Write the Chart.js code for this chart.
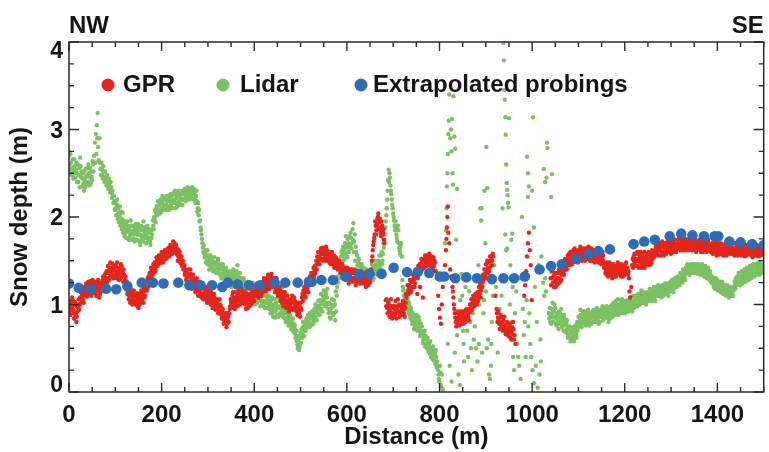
<!DOCTYPE html>
<html><head><meta charset="utf-8">
<script src="https://cdn.jsdelivr.net/npm/chart.js@4.4.0/dist/chart.umd.min.js"></script>
<style>html,body{margin:0;padding:0;background:#fff;}canvas{display:block;}</style>
</head><body>
<canvas id="c" width="769" height="452"></canvas>
<script>
const seriesNames = ['GPR', 'Lidar', 'Extrapolated probings'];
const directionLabels = ['NW', 'SE'];
const xTickLabels = [0, 200, 400, 600, 800, 1000, 1200, 1400];
const yTickLabels = [0, 1, 2, 3, 4];
const xTitle = 'Distance (m)';
const yTitle = 'Snow depth (m)';

// Extrapolated probings [distance m, depth m]
const probePoints = [[0,1.24],[21,1.19],[47,1.175],[80,1.18],[102,1.175],[126,1.21],[157,1.25],[181,1.25],[204,1.24],[236,1.25],[260,1.22],[284,1.22],[309,1.22],[331,1.2],[343,1.25],[364,1.23],[389,1.22],[413,1.22],[444,1.25],[467,1.25],[494,1.25],[518,1.26],[524,1.26],[545,1.28],[570,1.28],[597,1.32],[626,1.34],[649,1.35],[675,1.35],[701,1.42],[730,1.37],[753,1.37],[778,1.36],[801,1.32],[810,1.32],[834,1.3],[858,1.31],[881,1.3],[913,1.29],[938,1.3],[961,1.3],[984,1.32],[1016,1.4],[1041,1.44],[1064,1.46],[1095,1.52],[1120,1.57],[1143,1.61],[1168,1.63],[1219,1.69],[1242,1.72],[1265,1.74],[1297,1.78],[1322,1.81],[1346,1.79],[1371,1.78],[1394,1.78],[1402,1.78],[1426,1.72],[1450,1.71],[1475,1.69],[1500,1.68]];

// GPR [distance m, depth m]
const gprPoints = [[0,0.98],[2,0.92],[4,1.02],[6,0.95],[8,1.05],[10,0.9],[12,0.99],[14,0.86],[16,0.8],[18,0.92],[20,1.0],[22,0.94],[24,1.08],[26,1.02],[28,1.12],[30,1.06],[33,1.16],[36,1.1],[38,1.2],[40,1.14],[43,1.22],[46,1.15],[49,1.24],[52,1.18],[55,1.26],[58,1.14],[61,1.2],[64,1.23],[67,1.12],[70,1.2],[73,1.28],[76,1.18],[79,1.3],[82,1.25],[85,1.36],[88,1.3],[91,1.42],[94,1.34],[97,1.45],[100,1.38],[103,1.3],[106,1.42],[109,1.35],[112,1.46],[115,1.32],[118,1.4],[121,1.28],[124,1.22],[127,1.15],[130,1.1],[133,1.18],[136,1.05],[139,1.12],[142,1.02],[145,1.09],[148,0.98],[151,1.06],[154,1.12],[157,1.03],[160,1.14],[163,1.08],[166,1.2],[169,1.25],[172,1.32],[175,1.28],[178,1.38],[181,1.34],[184,1.44],[187,1.4],[190,1.5],[193,1.46],[196,1.52],[199,1.48],[202,1.56],[205,1.5],[208,1.58],[211,1.53],[214,1.6],[217,1.55],[220,1.63],[223,1.58],[226,1.66],[228,1.7],[230,1.6],[233,1.64],[236,1.55],[239,1.6],[242,1.52],[245,1.48],[248,1.42],[251,1.36],[254,1.3],[257,1.4],[260,1.25],[263,1.35],[266,1.22],[269,1.3],[272,1.18],[275,1.26],[278,1.15],[281,1.22],[284,1.1],[287,1.18],[290,1.06],[293,1.14],[296,1.2],[299,1.08],[302,1.15],[305,1.04],[308,1.1],[311,1.0],[314,1.08],[317,0.98],[320,1.04],[323,0.94],[326,1.0],[329,0.88],[332,0.95],[335,0.82],[338,0.9],[341,0.78],[344,0.86],[347,0.95],[350,1.02],[353,1.1],[356,0.98],[359,1.08],[362,1.0],[365,1.12],[368,1.04],[371,1.15],[374,1.06],[377,1.12],[380,1.0],[383,1.08],[386,0.96],[389,1.05],[392,1.12],[395,1.02],[398,1.1],[401,1.15],[404,1.22],[407,1.12],[410,1.2],[413,1.1],[416,1.18],[419,1.26],[422,1.15],[425,1.22],[428,1.3],[431,1.2],[434,1.28],[437,1.35],[440,1.24],[443,1.3],[446,1.18],[449,1.25],[452,1.14],[455,1.2],[458,1.08],[461,1.14],[464,1.02],[467,1.1],[470,0.98],[473,1.05],[476,0.95],[479,1.02],[482,1.1],[485,0.96],[488,1.04],[491,0.92],[494,1.0],[497,0.9],[500,0.97],[503,1.08],[506,1.16],[509,1.12],[512,1.22],[515,1.18],[518,1.28],[521,1.22],[524,1.32],[527,1.28],[530,1.38],[533,1.45],[536,1.55],[539,1.5],[542,1.6],[545,1.52],[548,1.65],[551,1.58],[554,1.5],[557,1.62],[560,1.55],[563,1.48],[566,1.58],[569,1.5],[572,1.56],[575,1.45],[578,1.52],[581,1.44],[584,1.5],[587,1.4],[590,1.46],[593,1.36],[596,1.42],[599,1.32],[602,1.38],[605,1.28],[608,1.35],[611,1.4],[614,1.3],[617,1.36],[620,1.26],[623,1.32],[626,1.38],[629,1.28],[632,1.35],[635,1.24],[638,1.3],[641,1.2],[644,1.27],[647,1.34],[650,1.25],[654,1.5],[656,1.62],[658,1.72],[660,1.8],[662,1.9],[664,1.85],[666,1.98],[668,2.04],[670,1.94],[672,1.86],[674,1.78],[676,1.9],[678,1.82],[680,1.74],[684,1.05],[687,0.96],[690,1.02],[693,0.92],[696,0.98],[699,0.88],[702,0.95],[705,1.04],[708,0.9],[711,0.98],[714,0.86],[717,0.93],[720,1.0],[723,0.9],[726,0.96],[729,1.08],[732,1.16],[735,1.22],[738,1.14],[741,1.2],[744,1.3],[747,1.24],[750,1.36],[752,1.12],[753,1.3],[756,1.42],[758,1.2],[759,1.38],[762,1.48],[764,1.08],[765,1.44],[768,1.52],[771,1.46],[774,1.56],[777,1.5],[780,1.45],[783,1.55],[786,1.4],[789,1.5],[795,1.3],[797,1.1],[799,0.95],[801,0.85],[803,0.78],[805,1.0],[807,1.2],[812,1.45],[814,1.62],[815,1.75],[816,1.88],[817,2.0],[818,2.12],[819,1.82],[821,1.7],[823,1.4],[825,1.32],[828,1.2],[830,1.08],[832,0.95],[834,0.85],[836,0.75],[838,0.9],[841,0.82],[844,0.88],[847,0.78],[850,0.92],[853,0.84],[856,0.8],[859,0.9],[862,0.86],[865,0.95],[868,1.0],[871,0.96],[874,1.05],[877,1.0],[880,1.1],[883,1.04],[886,1.15],[889,1.08],[892,1.2],[895,1.28],[898,1.35],[901,1.3],[904,1.42],[907,1.38],[910,1.5],[913,1.45],[916,1.55],[919,1.3],[921,1.1],[923,0.95],[926,0.85],[929,0.78],[932,0.88],[935,0.74],[938,0.82],[941,0.7],[944,0.78],[947,0.66],[950,0.74],[953,0.62],[956,0.7],[959,0.8],[962,0.65],[964,0.55],[983,1.1],[985,1.22],[987,1.38],[989,1.55],[991,1.7],[993,1.82],[995,1.62],[997,1.45],[999,1.05],[1040,1.3],[1042,1.38],[1045,1.25],[1048,1.34],[1051,1.2],[1054,1.3],[1057,1.24],[1060,1.36],[1063,1.28],[1066,1.42],[1069,1.34],[1072,1.48],[1075,1.4],[1078,1.52],[1081,1.45],[1084,1.56],[1087,1.5],[1090,1.6],[1093,1.52],[1096,1.58],[1099,1.48],[1102,1.56],[1105,1.62],[1108,1.52],[1111,1.6],[1114,1.5],[1117,1.58],[1120,1.64],[1123,1.54],[1126,1.6],[1129,1.5],[1132,1.57],[1135,1.48],[1138,1.55],[1141,1.62],[1144,1.52],[1147,1.58],[1150,1.5],[1153,1.56],[1156,1.46],[1159,1.4],[1162,1.48],[1165,1.36],[1168,1.44],[1171,1.34],[1174,1.42],[1177,1.32],[1180,1.4],[1183,1.35],[1186,1.45],[1189,1.38],[1192,1.32],[1195,1.42],[1198,1.36],[1201,1.46],[1204,1.4],[1207,1.34],[1210,1.15],[1212,1.08],[1214,1.2],[1216,1.45],[1219,1.55],[1222,1.48],[1225,1.58],[1228,1.44],[1231,1.52],[1234,1.6],[1237,1.46],[1240,1.55],[1243,1.42],[1246,1.5],[1249,1.58],[1252,1.45],[1255,1.54],[1258,1.48],[1261,1.57],[1264,1.6],[1267,1.66],[1270,1.58],[1273,1.64],[1276,1.7],[1279,1.6],[1282,1.67],[1285,1.56],[1288,1.63],[1291,1.7],[1294,1.6],[1297,1.66],[1300,1.58],[1303,1.64],[1306,1.7],[1309,1.62],[1312,1.68],[1315,1.74],[1318,1.64],[1321,1.7],[1324,1.62],[1327,1.68],[1330,1.75],[1333,1.65],[1336,1.7],[1339,1.62],[1342,1.68],[1345,1.73],[1348,1.64],[1351,1.7],[1354,1.6],[1357,1.66],[1360,1.72],[1363,1.63],[1366,1.69],[1369,1.6],[1372,1.67],[1375,1.72],[1378,1.64],[1381,1.7],[1384,1.62],[1387,1.68],[1390,1.58],[1393,1.65],[1396,1.71],[1399,1.6],[1402,1.66],[1405,1.57],[1408,1.63],[1411,1.69],[1414,1.6],[1417,1.66],[1420,1.56],[1423,1.62],[1426,1.68],[1429,1.58],[1432,1.64],[1435,1.7],[1438,1.6],[1441,1.66],[1444,1.56],[1447,1.62],[1450,1.68],[1453,1.58],[1456,1.64],[1459,1.55],[1462,1.62],[1465,1.68],[1468,1.58],[1471,1.64],[1474,1.56],[1477,1.62],[1480,1.68],[1483,1.58],[1486,1.64],[1489,1.55],[1492,1.62],[1495,1.67],[1498,1.58],
[1,1.04],[3,0.88],[5,0.97],[7,1.08],[9,0.94],[11,0.84],[13,1.03],[15,0.9],[17,0.86],[19,0.97],[21,1.06],[23,0.99],[25,1.14],[27,1.06],[29,1.16],[31,1.1],[32,1.02],[34,1.2],[35,1.13],[37,1.24],[39,1.09],[41,1.18],[42,1.26],[44,1.12],[45,1.2],[47,1.27],[48,1.1],[50,1.2],[51,1.28],[53,1.13],[54,1.22],[56,1.17],[57,1.24],[59,1.1],[60,1.26],[62,1.16],[63,1.28],[65,1.08],[66,1.18],[68,1.25],[69,1.15],[71,1.24],[72,1.16],[74,1.32],[75,1.22],[77,1.26],[78,1.35],[80,1.22],[81,1.38],[83,1.3],[84,1.44],[86,1.28],[87,1.4],[89,1.48],[90,1.33],[92,1.38],[93,1.47],[95,1.4],[96,1.3],[98,1.42],[99,1.32],[101,1.44],[102,1.36],[104,1.48],[105,1.33],[107,1.38],[108,1.28],[110,1.4],[111,1.3],[113,1.38],[114,1.44],[116,1.36],[117,1.26],[119,1.34],[120,1.24],[122,1.32],[123,1.18],[125,1.26],[126,1.12],[128,1.2],[129,1.06],[131,1.14],[132,1.02],[134,1.1],[135,1.15],[137,1.0],[138,1.08],[140,1.16],[141,1.04],[143,1.12],[144,1.0],[146,1.05],[147,1.13],[149,1.02],[150,0.96],[152,1.1],[153,1.0],[155,1.08],[156,1.16],[158,1.06],[159,1.12],[161,1.02],[162,1.18],[164,1.1],[165,1.16],[167,1.26],[168,1.16],[170,1.3],[171,1.2],[173,1.26],[174,1.36],[176,1.32],[177,1.42],[179,1.3],[180,1.4],[182,1.46],[183,1.36],[185,1.48],[186,1.38],[188,1.44],[189,1.54],[191,1.44],[192,1.5],[194,1.56],[195,1.47],[197,1.56],[198,1.5],[200,1.6],[201,1.52],[203,1.48],[204,1.58],[206,1.54],[207,1.62],[209,1.52],[210,1.6],[212,1.56],[213,1.64],[215,1.57],[216,1.65],[218,1.6],[219,1.68],[221,1.58],[222,1.66],[224,1.62],[225,1.72],[227,1.62],[229,1.66],[231,1.68],[232,1.58],[234,1.6],[235,1.5],[237,1.62],[238,1.54],[240,1.56],[241,1.47],[243,1.55],[244,1.44],[246,1.5],[247,1.4],[249,1.45],[250,1.34],[252,1.4],[253,1.28],[255,1.36],[256,1.26],[258,1.33],[259,1.22],[261,1.32],[262,1.4],[264,1.28],[265,1.18],[267,1.26],[268,1.34],[270,1.2],[271,1.26],[273,1.14],[274,1.22],[276,1.3],[277,1.2],[279,1.1],[280,1.18],[282,1.26],[283,1.14],[285,1.2],[286,1.08],[288,1.12],[289,1.22],[291,1.1],[292,1.2],[294,1.06],[295,1.16],[297,1.12],[298,1.02],[300,1.12],[301,1.06],[303,1.18],[304,1.08],[306,1.0],[307,1.14],[309,1.06],[310,0.96],[312,1.04],[313,1.12],[315,1.02],[316,0.94],[318,1.06],[319,0.96],[321,1.0],[322,0.9],[324,0.98],[325,1.06],[327,0.92],[328,0.98],[330,0.84],[331,0.92],[333,0.86],[334,0.78],[336,0.88],[337,0.8],[339,0.84],[340,0.74],[342,0.82],[343,0.9],[345,0.8],[346,0.9],[348,0.98],[349,1.06],[351,0.96],[352,1.05],[354,1.14],[355,1.02],[357,1.06],[358,0.95],[360,1.14],[361,1.04],[363,1.1],[364,0.98],[366,1.06],[367,1.16],[369,1.1],[370,1.0],[372,1.08],[373,1.18],[375,1.02],[376,1.1],[378,1.05],[379,1.15],[381,1.04],[382,0.95],[384,1.02],[385,1.12],[387,1.0],[388,1.1],[390,0.98],[391,1.06],[393,1.0],[394,1.08],[396,1.15],[397,1.06],[399,1.14],[400,1.04],[402,1.1],[403,1.18],[405,1.14],[406,1.24],[408,1.16],[409,1.08],[411,1.14],[412,1.24],[414,1.2],[415,1.1],[417,1.22],[418,1.14],[420,1.2],[421,1.3],[423,1.24],[424,1.18],[426,1.26],[427,1.16],[429,1.24],[430,1.34],[432,1.26],[433,1.18],[435,1.24],[436,1.32],[438,1.28],[439,1.2],[441,1.3],[442,1.22],[444,1.26],[445,1.14],[447,1.22],[448,1.3],[450,1.18],[451,1.1],[453,1.2],[454,1.12],[456,1.16],[457,1.04],[459,1.12],[460,1.02],[462,1.08],[463,0.98],[465,1.06],[466,1.14],[468,1.04],[469,0.96],[471,1.02],[472,1.1],[474,1.0],[475,0.92],[477,0.98],[478,1.06],[480,0.96],[481,1.04],[483,0.94],[484,1.02],[486,1.08],[487,0.98],[489,0.94],[490,1.02],[492,0.96],[493,0.88],[495,0.94],[496,1.02],[498,0.94],[499,0.86],[501,1.02],[502,0.94],[504,1.12],[505,1.04],[507,1.1],[508,1.2],[510,1.16],[511,1.08],[513,1.16],[514,1.26],[516,1.22],[517,1.14],[519,1.24],[520,1.32],[522,1.26],[523,1.36],[525,1.24],[526,1.34],[528,1.42],[529,1.32],[531,1.44],[532,1.36],[534,1.5],[535,1.4],[537,1.48],[538,1.6],[540,1.54],[541,1.46],[543,1.56],[544,1.64],[546,1.58],[547,1.5],[549,1.6],[550,1.52],[552,1.62],[553,1.56],[555,1.66],[556,1.54],[558,1.58],[559,1.5],[561,1.6],[562,1.52],[564,1.56],[565,1.46],[567,1.54],[568,1.6],[570,1.46],[571,1.52],[573,1.42],[574,1.5],[576,1.54],[577,1.44],[579,1.48],[580,1.4],[582,1.5],[583,1.42],[585,1.46],[586,1.36],[588,1.44],[589,1.36],[591,1.4],[592,1.32],[594,1.42],[595,1.3],[597,1.38],[598,1.28],[600,1.34],[601,1.42],[603,1.32],[604,1.24],[606,1.32],[607,1.4],[609,1.3],[610,1.36],[612,1.26],[613,1.36],[615,1.28],[616,1.4],[618,1.3],[619,1.22],[621,1.3],[622,1.38],[624,1.28],[625,1.34],[627,1.24],[628,1.32],[630,1.38],[631,1.3],[633,1.26],[634,1.34],[636,1.28],[637,1.36],[639,1.26],[640,1.32],[642,1.24],[643,1.3],[645,1.22],[646,1.3],[648,1.28],[649,1.36],[651,1.3],[652,1.4],[655,1.55],[657,1.68],[659,1.76],[661,1.95],[663,1.8],[665,1.92],[667,2.0],[669,1.88],[671,1.98],[673,1.82],[675,1.95],[677,1.8],[679,1.86],[681,1.7],[685,0.98],[686,1.06],[688,0.9],[689,1.0],[691,0.94],[692,0.86],[694,0.96],[695,1.06],[697,0.9],[698,0.84],[700,0.98],[701,0.9],[703,0.86],[704,0.98],[706,0.94],[707,0.84],[709,0.96],[710,1.06],[712,0.92],[713,1.0],[715,0.9],[716,0.98],[718,0.88],[719,0.96],[721,1.04],[722,0.94],[724,0.98],[725,0.86],[727,1.02],[728,1.12],[730,1.12],[731,1.22],[733,1.12],[734,1.2],[736,1.28],[737,1.16],[739,1.26],[740,1.18],[742,1.26],[743,1.34],[745,1.28],[746,1.2],[748,1.32],[749,1.4],[751,1.34],[754,1.44],[755,1.36],[757,1.46],[760,1.42],[761,1.52],[763,1.4],[766,1.5],[767,1.42],[769,1.56],[770,1.48],[772,1.52],[773,1.44],[775,1.54],[776,1.46],[778,1.58],[779,1.52],[781,1.5],[782,1.42],[784,1.52],[785,1.46],[787,1.54],[788,1.44],[790,1.48],[792,1.38],[829,1.15],[831,1.0],[833,0.9],[835,0.8],[837,0.84],[839,0.78],[840,0.92],[842,0.86],[843,0.76],[845,0.84],[846,0.92],[848,0.86],[849,0.8],[851,0.88],[852,0.78],[854,0.92],[855,0.86],[857,0.94],[858,0.84],[860,0.82],[861,0.94],[863,0.9],[864,0.82],[866,1.0],[867,0.92],[869,1.06],[870,0.94],[872,1.02],[873,1.1],[875,0.98],[876,1.08],[878,1.12],[879,1.04],[881,1.0],[882,1.14],[884,1.08],[885,1.2],[887,1.12],[888,1.24],[890,1.16],[891,1.3],[893,1.25],[894,1.34],[896,1.3],[897,1.4],[899,1.32],[900,1.46],[902,1.38],[903,1.5],[905,1.36],[906,1.48],[908,1.42],[909,1.55],[911,1.44],[912,1.52],[914,1.5],[915,1.58],[924,0.9],[925,0.8],[927,0.92],[928,0.84],[930,0.72],[931,0.8],[933,0.76],[934,0.86],[936,0.78],[937,0.7],[939,0.76],[940,0.86],[942,0.74],[943,0.66],[945,0.72],[946,0.8],[948,0.7],[949,0.64],[951,0.7],[952,0.78],[954,0.68],[955,0.6],[957,0.74],[958,0.66],[960,0.72],[961,0.6],[1041,1.22],[1043,1.3],[1044,1.4],[1046,1.32],[1047,1.2],[1049,1.26],[1050,1.36],[1052,1.28],[1053,1.22],[1055,1.36],[1056,1.3],[1058,1.4],[1059,1.3],[1061,1.26],[1062,1.44],[1064,1.34],[1065,1.38],[1067,1.48],[1068,1.38],[1070,1.44],[1071,1.52],[1073,1.42],[1074,1.5],[1076,1.46],[1077,1.56],[1079,1.48],[1080,1.58],[1082,1.5],[1083,1.6],[1085,1.52],[1086,1.46],[1088,1.56],[1089,1.62],[1091,1.54],[1092,1.64],[1094,1.56],[1095,1.5],[1097,1.6],[1098,1.54],[1100,1.62],[1101,1.5],[1103,1.58],[1104,1.66],[1106,1.56],[1107,1.5],[1109,1.58],[1110,1.64],[1112,1.54],[1113,1.6],[1115,1.56],[1116,1.64],[1118,1.52],[1119,1.6],[1121,1.56],[1122,1.66],[1124,1.58],[1125,1.5],[1127,1.56],[1128,1.64],[1130,1.54],[1131,1.6],[1133,1.52],[1134,1.62],[1136,1.54],[1137,1.6],[1139,1.5],[1140,1.58],[1142,1.56],[1143,1.48],[1145,1.56],[1146,1.62],[1148,1.54],[1149,1.46],[1151,1.54],[1152,1.6],[1154,1.5],[1155,1.42],[1157,1.44],[1158,1.36],[1160,1.44],[1161,1.34],[1163,1.42],[1164,1.32],[1166,1.4],[1167,1.48],[1169,1.38],[1170,1.46],[1172,1.38],[1173,1.3],[1175,1.38],[1176,1.46],[1178,1.36],[1179,1.44],[1181,1.32],[1182,1.42],[1184,1.38],[1185,1.48],[1187,1.36],[1188,1.42],[1190,1.34],[1191,1.4],[1193,1.46],[1194,1.36],[1196,1.32],[1197,1.4],[1199,1.44],[1200,1.34],[1202,1.4],[1203,1.48],[1205,1.36],[1206,1.42],[1208,1.38],[1209,1.3],[1217,1.52],[1218,1.42],[1220,1.5],[1221,1.58],[1223,1.44],[1224,1.52],[1226,1.5],[1227,1.6],[1229,1.5],[1230,1.42],[1232,1.56],[1233,1.48],[1235,1.52],[1236,1.42],[1238,1.58],[1239,1.5],[1241,1.46],[1242,1.6],[1244,1.52],[1245,1.46],[1247,1.56],[1248,1.48],[1250,1.52],[1251,1.6],[1253,1.5],[1254,1.58],[1256,1.46],[1257,1.56],[1259,1.62],[1260,1.52],[1262,1.6],[1263,1.54],[1265,1.56],[1266,1.62],[1268,1.7],[1269,1.62],[1271,1.66],[1272,1.56],[1274,1.62],[1275,1.68],[1277,1.64],[1278,1.56],[1280,1.66],[1281,1.72],[1283,1.6],[1284,1.66],[1286,1.62],[1287,1.7],[1289,1.58],[1290,1.66],[1292,1.64],[1293,1.72],[1295,1.62],[1296,1.7],[1298,1.6],[1299,1.68],[1301,1.62],[1302,1.72],[1304,1.6],[1305,1.66],[1307,1.64],[1308,1.74],[1310,1.66],[1311,1.6],[1313,1.64],[1314,1.7],[1316,1.66],[1317,1.76],[1319,1.68],[1320,1.62],[1322,1.74],[1323,1.66],[1325,1.72],[1326,1.64],[1328,1.7],[1329,1.62],[1331,1.68],[1332,1.72],[1334,1.62],[1335,1.74],[1337,1.66],[1338,1.72],[1340,1.66],[1341,1.74],[1343,1.64],[1344,1.7],[1346,1.62],[1347,1.68],[1349,1.72],[1350,1.64],[1352,1.66],[1353,1.74],[1355,1.68],[1356,1.62],[1358,1.7],[1359,1.64],[1361,1.66],[1362,1.74],[1364,1.66],[1365,1.6],[1367,1.72],[1368,1.64],[1370,1.68],[1371,1.62],[1373,1.7],[1374,1.64],[1376,1.66],[1377,1.6],[1379,1.68],[1380,1.74],[1382,1.64],[1383,1.68],[1385,1.66],[1386,1.6],[1388,1.62],[1389,1.7],[1391,1.64],[1392,1.6],[1394,1.68],[1395,1.62],[1397,1.66],[1398,1.56],[1400,1.64],[1401,1.7],[1403,1.6],[1404,1.68],[1406,1.64],[1407,1.7],[1409,1.58],[1410,1.64],[1412,1.62],[1413,1.56],[1415,1.66],[1416,1.6],[1418,1.62],[1419,1.7],[1421,1.6],[1422,1.66],[1424,1.58],[1425,1.64],[1427,1.62],[1428,1.7],[1430,1.6],[1431,1.66],[1433,1.58],[1434,1.64],[1436,1.62],[1437,1.56],[1439,1.64],[1440,1.7],[1442,1.6],[1443,1.64],[1445,1.6],[1446,1.68],[1448,1.58],[1449,1.64],[1451,1.62],[1452,1.56],[1454,1.66],[1455,1.6],[1457,1.6],[1458,1.68],[1460,1.58],[1461,1.64],[1463,1.56],[1464,1.62],[1466,1.64],[1467,1.58],[1469,1.66],[1470,1.6],[1472,1.58],[1473,1.66],[1475,1.6],[1476,1.54],[1478,1.64],[1479,1.6],[1481,1.62],[1482,1.56],[1484,1.6],[1485,1.68],[1487,1.6],[1488,1.64],[1490,1.58],[1491,1.66],[1493,1.6],[1494,1.56],[1496,1.62],[1497,1.66],[1499,1.6],[1500,1.64]];

// Lidar [distance m, depth m]
const lidarPoints = [[0,2.7],[2,2.55],[4,2.62],[6,2.48],[8,2.66],[10,2.52],[12,2.58],[14,2.45],[16,2.62],[18,2.5],[20,2.4],[22,2.56],[24,2.68],[26,2.46],[28,2.35],[30,2.5],[32,2.3],[34,2.42],[36,2.55],[38,2.38],[40,2.48],[42,2.6],[44,2.36],[46,2.45],[48,2.52],[50,2.42],[52,2.6],[54,2.7],[56,2.85],[57,2.62],[58,2.95],[59,2.72],[60,3.05],[61,2.9],[62,3.19],[63,2.8],[64,2.65],[66,2.9],[68,2.55],[70,2.62],[72,2.48],[74,2.58],[76,2.45],[78,2.52],[80,2.4],[82,2.48],[84,2.38],[86,2.44],[88,2.34],[90,2.4],[92,2.3],[95,2.25],[98,2.18],[101,2.1],[104,2.2],[107,2.05],[110,2.12],[113,1.98],[116,2.05],[119,1.9],[122,1.82],[125,1.95],[128,1.86],[131,1.78],[134,1.9],[137,1.84],[140,1.75],[143,1.88],[146,1.8],[149,1.92],[152,1.72],[155,1.85],[158,1.78],[161,1.95],[164,1.82],[167,1.7],[170,1.86],[173,1.76],[176,1.68],[179,1.8],[182,1.9],[185,1.98],[188,2.05],[191,2.12],[194,2.05],[197,2.18],[200,2.1],[203,2.2],[206,2.14],[209,2.08],[212,2.18],[215,2.12],[218,2.22],[221,2.15],[224,2.25],[227,2.18],[230,2.1],[233,2.22],[236,2.16],[239,2.26],[242,2.2],[245,2.14],[248,2.28],[251,2.22],[254,2.3],[257,2.24],[260,2.33],[263,2.26],[266,2.34],[269,2.28],[272,2.2],[275,2.3],[278,2.1],[280,2.02],[282,1.95],[284,1.88],[286,1.8],[289,1.65],[292,1.58],[295,1.62],[298,1.5],[301,1.56],[304,1.45],[307,1.52],[310,1.42],[313,1.48],[316,1.38],[319,1.45],[322,1.52],[325,1.4],[328,1.46],[331,1.35],[334,1.42],[337,1.3],[340,1.38],[343,1.25],[346,1.33],[349,1.22],[352,1.3],[355,1.4],[358,1.26],[361,1.34],[364,1.45],[367,1.24],[370,1.3],[373,1.2],[376,1.26],[379,1.15],[382,1.22],[385,1.1],[388,1.18],[391,1.05],[394,1.15],[397,1.25],[400,1.08],[403,1.18],[406,1.02],[409,1.12],[412,1.22],[415,1.05],[418,1.15],[421,0.98],[424,1.1],[427,1.2],[430,1.04],[433,0.95],[436,1.05],[439,0.9],[442,1.0],[445,0.85],[448,0.95],[451,1.08],[454,0.88],[457,0.98],[460,1.15],[463,0.9],[466,1.02],[469,0.85],[472,0.92],[475,0.8],[478,0.88],[481,0.76],[484,0.84],[487,0.72],[490,0.65],[492,0.58],[494,0.5],[496,0.6],[498,0.52],[500,0.68],[503,0.62],[506,0.75],[509,0.7],[512,0.82],[515,0.76],[518,0.86],[521,0.78],[524,0.9],[527,0.82],[530,0.95],[533,0.86],[536,0.98],[539,0.9],[542,1.05],[545,0.95],[548,1.1],[551,1.0],[554,1.15],[557,1.08],[560,0.95],[563,0.85],[566,1.0],[569,0.9],[572,1.05],[575,0.82],[578,1.1],[581,1.25],[584,1.4],[587,1.55],[590,1.62],[593,1.5],[596,1.7],[599,1.58],[602,1.75],[605,1.65],[608,1.82],[611,1.7],[614,1.93],[617,1.8],[620,1.6],[623,1.45],[626,1.52],[629,1.38],[632,1.46],[635,1.32],[638,1.4],[641,1.28],[644,1.36],[647,1.25],[650,1.33],[653,1.4],[656,1.28],[659,1.35],[662,1.45],[665,1.38],[668,1.5],[671,1.44],[674,1.56],[677,1.5],[680,1.65],[682,1.8],[684,1.95],[686,2.1],[688,2.3],[690,2.54],[691,2.4],[693,2.45],[695,2.3],[697,2.2],[699,2.1],[701,2.0],[703,1.9],[705,1.95],[707,1.8],[709,1.72],[711,1.85],[713,1.65],[715,1.58],[717,1.7],[719,1.55],[721,1.2],[723,1.1],[725,1.0],[727,1.12],[729,0.95],[731,1.05],[733,0.9],[735,0.98],[737,0.85],[739,0.92],[741,0.78],[743,0.86],[745,0.72],[747,0.8],[750,0.88],[753,0.75],[756,0.82],[759,0.68],[762,0.75],[765,0.6],[768,0.7],[771,0.55],[774,0.62],[777,0.5],[780,0.58],[783,0.45],[786,0.52],[789,0.42],[792,0.48],[795,0.35],[797,0.25],[799,0.15],[801,0.3],[803,0.08],[805,0.2],[807,0.03],[812,1.7],[814,1.85],[815,2.1],[816,2.35],[817,2.5],[818,2.72],[819,2.95],[820,3.1],[821,3.4],[823,2.9],[825,3.0],[826,2.75],[827,3.12],[828,2.5],[829,2.37],[830,3.38],[832,2.92],[834,2.78],[836,1.74],[838,2.32],[818,0.55],[822,0.3],[826,0.12],[833,0.45],[838,0.65],[841,0.2],[844,0.08],[848,1.35],[849,1.1],[850,0.9],[851,0.7],[852,0.55],[858,0.95],[862,0.4],[866,0.8],[870,0.25],[874,0.6],[876,0.75],[879,0.5],[880,1.3],[882,0.35],[884,1.45],[886,1.0],[888,2.1],[890,1.96],[891,2.1],[893,1.2],[895,0.9],[897,2.3],[899,1.7],[900,1.15],[901,2.8],[903,2.33],[904,1.4],[905,0.6],[907,0.2],[909,0.15],[911,0.3],[913,0.8],[915,1.1],[936,2.1],[938,3.99],[939,3.79],[940,3.45],[941,3.34],[942,3.14],[943,2.94],[944,2.6],[945,2.39],[946,2.31],[947,2.25],[948,2.16],[949,2.11],[950,3.13],[946,1.64],[944,1.62],[942,1.8],[952,1.0],[955,0.8],[957,0.6],[959,0.4],[961,0.25],[955,1.74],[957,1.81],[968,0.55],[970,0.4],[972,0.3],[975,0.15],[978,2.0],[980,0.95],[984,0.8],[988,1.05],[992,0.75],[989,2.69],[991,2.5],[991,2.23],[993,2.35],[1000,2.3],[1002,3.14],[1004,1.88],[998,0.4],[1001,0.25],[1004,0.1],[1008,0.3],[1012,0.05],[1016,0.2],[1019,0.35],[1020,1.55],[1022,1.4],[1024,1.25],[1026,1.1],[1028,1.3],[1030,1.15],[1025,2.55],[1028,2.4],[1031,2.45],[1032,2.85],[1033,2.79],[1041,2.23],[1043,2.49],[1036,0.9],[1039,0.8],[1042,0.95],[1045,0.85],[1048,1.0],[1051,0.78],[1054,0.9],[1057,0.72],[1060,0.85],[1063,0.95],[1066,0.76],[1069,0.88],[1072,0.7],[1075,0.82],[1078,0.65],[1081,0.75],[1084,0.6],[1087,0.7],[1090,0.58],[1093,0.68],[1096,0.62],[1099,0.74],[1102,0.8],[1105,0.88],[1108,0.78],[1111,0.85],[1114,0.92],[1117,0.8],[1120,0.87],[1123,0.76],[1126,0.84],[1129,0.9],[1132,0.8],[1135,0.88],[1138,0.82],[1141,0.9],[1144,0.78],[1147,0.86],[1150,0.93],[1153,0.82],[1156,0.9],[1159,0.85],[1162,0.92],[1165,0.8],[1168,0.88],[1171,0.94],[1174,0.86],[1177,0.98],[1180,0.9],[1183,1.0],[1186,0.88],[1189,0.96],[1192,1.04],[1195,0.92],[1198,1.0],[1201,0.9],[1204,0.98],[1207,1.05],[1210,0.94],[1213,1.02],[1216,0.92],[1219,1.0],[1222,1.06],[1225,1.0],[1228,1.08],[1231,1.02],[1234,1.12],[1237,1.05],[1240,1.14],[1243,1.06],[1246,1.0],[1249,1.1],[1252,1.04],[1255,1.14],[1258,1.08],[1261,1.16],[1264,1.06],[1267,1.12],[1270,1.2],[1273,1.1],[1276,1.16],[1279,1.08],[1282,1.14],[1285,1.2],[1288,1.12],[1291,1.18],[1294,1.1],[1297,1.2],[1300,1.16],[1303,1.24],[1306,1.18],[1309,1.26],[1312,1.2],[1315,1.28],[1318,1.22],[1321,1.3],[1324,1.25],[1327,1.33],[1330,1.28],[1333,1.36],[1336,1.4],[1339,1.45],[1342,1.36],[1345,1.42],[1348,1.38],[1351,1.45],[1354,1.4],[1357,1.35],[1360,1.43],[1363,1.38],[1366,1.44],[1369,1.36],[1372,1.42],[1375,1.34],[1378,1.4],[1381,1.32],[1384,1.38],[1387,1.3],[1390,1.25],[1393,1.3],[1396,1.22],[1399,1.28],[1402,1.2],[1405,1.26],[1408,1.18],[1411,1.24],[1414,1.16],[1417,1.22],[1420,1.14],[1423,1.2],[1426,1.12],[1429,1.18],[1432,1.1],[1435,1.16],[1438,1.22],[1441,1.28],[1444,1.24],[1447,1.3],[1450,1.26],[1453,1.33],[1456,1.28],[1459,1.36],[1462,1.3],[1465,1.38],[1468,1.32],[1471,1.4],[1474,1.35],[1477,1.42],[1480,1.36],[1483,1.44],[1486,1.38],[1489,1.45],[1492,1.4],[1495,1.46],[1498,1.42],
[1,2.6],[3,2.72],[5,2.5],[7,2.56],[9,2.44],[11,2.66],[13,2.5],[15,2.54],[17,2.4],[19,2.6],[21,2.48],[23,2.34],[25,2.58],[27,2.52],[29,2.44],[31,2.38],[33,2.52],[35,2.34],[37,2.46],[39,2.56],[41,2.4],[43,2.5],[45,2.56],[47,2.38],[49,2.46],[51,2.64],[53,2.52],[67,2.62],[69,2.48],[71,2.54],[73,2.44],[75,2.52],[77,2.4],[79,2.46],[81,2.36],[83,2.42],[85,2.32],[87,2.38],[89,2.28],[91,2.34],[93,2.22],[94,2.3],[96,2.16],[97,2.24],[99,2.08],[100,2.16],[102,2.02],[103,2.14],[105,1.98],[106,2.1],[108,1.94],[109,2.02],[111,1.9],[112,2.06],[114,1.86],[115,1.94],[117,1.82],[118,1.96],[120,1.78],[121,1.86],[123,1.92],[124,1.76],[126,1.84],[127,1.9],[129,1.74],[130,1.86],[132,1.82],[133,1.96],[135,1.74],[136,1.82],[138,1.9],[139,1.8],[141,1.86],[142,1.72],[144,1.84],[145,1.92],[147,1.74],[148,1.84],[150,1.8],[151,1.88],[153,1.8],[154,1.68],[156,1.9],[157,1.76],[159,1.86],[160,1.72],[162,1.8],[163,1.88],[165,1.76],[166,1.84],[168,1.78],[169,1.9],[171,1.74],[172,1.82],[174,1.86],[175,1.72],[177,1.84],[178,1.76],[180,1.86],[181,1.96],[183,1.86],[184,2.0],[186,2.08],[187,1.94],[189,2.12],[190,2.02],[192,2.18],[193,2.08],[195,2.14],[196,2.04],[198,2.2],[199,2.06],[201,2.16],[202,2.24],[204,2.12],[205,2.2],[207,2.08],[208,2.22],[210,2.14],[211,2.24],[213,2.1],[214,2.2],[216,2.08],[217,2.18],[219,2.26],[220,2.12],[222,2.2],[223,2.1],[225,2.16],[226,2.28],[228,2.2],[229,2.3],[231,2.16],[232,2.26],[234,2.12],[235,2.24],[237,2.3],[238,2.18],[240,2.24],[241,2.14],[243,2.26],[244,2.2],[246,2.3],[247,2.2],[249,2.26],[250,2.32],[252,2.18],[253,2.26],[255,2.2],[256,2.34],[258,2.28],[259,2.2],[261,2.3],[262,2.22],[264,2.32],[265,2.24],[267,2.3],[268,2.2],[270,2.32],[271,2.26],[273,2.16],[274,2.24],[276,2.18],[277,2.06],[279,2.16],[281,2.08],[283,1.96],[285,1.85],[287,1.75],[288,1.7],[290,1.6],[291,1.68],[293,1.54],[294,1.6],[296,1.48],[297,1.56],[299,1.62],[300,1.46],[302,1.52],[303,1.4],[305,1.48],[306,1.56],[308,1.44],[309,1.5],[311,1.38],[312,1.46],[314,1.54],[315,1.4],[317,1.48],[318,1.36],[320,1.42],[321,1.5],[323,1.36],[324,1.46],[326,1.34],[327,1.42],[329,1.3],[330,1.4],[332,1.46],[333,1.32],[335,1.38],[336,1.26],[338,1.34],[339,1.42],[341,1.3],[342,1.36],[344,1.22],[345,1.3],[347,1.38],[348,1.26],[350,1.34],[351,1.2],[353,1.28],[354,1.36],[356,1.24],[357,1.32],[359,1.2],[360,1.3],[362,1.38],[363,1.26],[365,1.18],[366,1.32],[368,1.24],[369,1.36],[371,1.2],[372,1.28],[374,1.14],[375,1.22],[377,1.3],[378,1.18],[380,1.24],[381,1.08],[383,1.16],[384,1.26],[386,1.12],[387,1.2],[389,1.02],[390,1.12],[392,1.22],[393,1.08],[395,1.18],[396,1.06],[398,1.14],[399,1.22],[401,1.12],[402,1.0],[404,1.1],[405,1.2],[407,1.06],[408,1.16],[410,1.04],[411,1.12],[413,0.98],[414,1.1],[416,1.18],[417,1.02],[419,1.1],[420,1.22],[422,1.04],[423,0.96],[425,1.14],[426,1.02],[428,1.08],[429,0.96],[431,1.1],[432,0.98],[434,1.02],[435,0.9],[437,0.98],[438,1.08],[440,0.94],[441,0.86],[443,0.96],[444,1.06],[446,0.92],[447,1.02],[449,0.88],[450,0.98],[452,0.86],[453,0.96],[455,1.04],[456,0.9],[458,1.1],[459,0.94],[461,1.2],[462,0.86],[464,0.96],[465,0.84],[467,0.92],[468,0.8],[470,0.9],[471,0.82],[473,0.86],[474,0.76],[476,0.86],[477,0.78],[479,0.84],[480,0.72],[482,0.8],[483,0.7],[485,0.78],[486,0.68],[488,0.76],[489,0.62],[491,0.7],[493,0.54],[495,0.64],[497,0.48],[499,0.62],[501,0.56],[502,0.72],[504,0.66],[505,0.8],[507,0.72],[508,0.64],[510,0.78],[511,0.7],[513,0.84],[514,0.74],[516,0.88],[517,0.8],[519,0.74],[520,0.9],[522,0.84],[523,0.76],[525,0.92],[526,0.86],[528,0.78],[529,0.9],[531,0.84],[532,1.0],[534,0.92],[535,0.82],[537,0.94],[538,1.04],[540,0.96],[541,0.88],[543,1.0],[544,1.12],[546,1.04],[547,0.92],[549,1.05],[550,1.16],[552,1.08],[553,0.98],[555,1.12],[556,1.02],[558,1.18],[559,1.0],[561,0.9],[562,1.02],[564,0.92],[565,0.84],[567,0.96],[568,1.06],[570,0.88],[571,0.98],[573,0.9],[574,1.0],[576,1.15],[577,0.92],[579,1.2],[580,1.32],[582,1.46],[583,1.3],[585,1.5],[586,1.42],[588,1.6],[589,1.48],[591,1.56],[592,1.66],[594,1.6],[595,1.52],[597,1.64],[598,1.78],[600,1.66],[601,1.54],[603,1.7],[604,1.6],[606,1.78],[607,1.68],[609,1.76],[610,1.64],[612,1.86],[613,1.74],[615,1.6],[616,1.72],[618,1.5],[619,1.66],[621,1.4],[622,1.56],[624,1.38],[625,1.48],[627,1.34],[628,1.44],[630,1.3],[631,1.4],[633,1.36],[634,1.28],[636,1.42],[637,1.3],[639,1.36],[640,1.24],[642,1.32],[643,1.4],[645,1.3],[646,1.22],[648,1.36],[649,1.28],[651,1.38],[652,1.3],[654,1.46],[655,1.34],[657,1.42],[658,1.3],[660,1.4],[661,1.5],[663,1.36],[664,1.44],[666,1.34],[667,1.46],[669,1.4],[670,1.56],[672,1.48],[673,1.4],[675,1.6],[676,1.46],[678,1.58],[679,1.7],[681,1.74],[683,1.88],[685,2.02],[687,2.2],[689,2.42],[692,2.5],[694,2.36],[696,2.26],[698,2.14],[700,2.04],[702,1.96],[704,1.85],[706,1.88],[708,1.76],[710,1.9],[712,1.7],[714,1.62],[716,1.66],[718,1.55],[720,1.28],[722,1.16],[724,1.05],[726,1.08],[728,1.02],[730,0.98],[732,0.94],[734,1.02],[736,0.88],[738,0.96],[740,0.82],[742,0.9],[744,0.8],[746,0.76],[748,0.84],[749,0.72],[751,0.8],[752,0.7],[754,0.78],[755,0.86],[757,0.72],[758,0.64],[760,0.78],[761,0.7],[763,0.66],[764,0.56],[766,0.68],[767,0.62],[769,0.52],[770,0.64],[772,0.6],[773,0.5],[775,0.56],[776,0.46],[778,0.55],[779,0.44],[781,0.5],[782,0.4],[784,0.48],[785,0.38],[787,0.46],[788,0.36],[790,0.44],[791,0.32],[793,0.4],[794,0.28],[796,0.3],[798,0.2],[800,0.12],[802,0.22],[804,0.05],[845,1.05],[853,0.35],[856,1.2],[860,0.7],[864,1.15],[868,0.5],[872,0.9],[878,1.0],[885,0.55],[892,0.45],[896,1.05],[902,0.5],[908,1.3],[912,0.55],[918,1.45],[922,1.2],[926,0.45],[930,0.95],[934,1.1],[953,1.45],[958,1.2],[963,0.9],[966,1.15],[974,1.3],[982,0.65],[986,0.4],[994,0.9],[996,0.55],[1006,1.2],[1010,0.8],[1014,1.45],[1018,0.6],[1037,0.84],[1038,0.96],[1040,0.88],[1041,0.78],[1043,0.9],[1044,1.02],[1046,0.8],[1047,0.92],[1049,0.86],[1050,0.96],[1052,0.84],[1053,0.76],[1055,0.88],[1056,0.8],[1058,0.92],[1059,0.78],[1061,0.9],[1062,0.82],[1064,0.74],[1065,0.86],[1067,0.8],[1068,0.7],[1070,0.84],[1071,0.76],[1073,0.68],[1074,0.78],[1076,0.72],[1077,0.62],[1079,0.74],[1080,0.66],[1082,0.7],[1083,0.58],[1085,0.68],[1086,0.62],[1088,0.74],[1089,0.64],[1091,0.72],[1092,0.62],[1094,0.76],[1095,0.66],[1097,0.8],[1098,0.7],[1100,0.86],[1101,0.76],[1103,0.84],[1104,0.94],[1106,0.82],[1107,0.74],[1109,0.86],[1110,0.92],[1112,0.8],[1113,0.88],[1115,0.84],[1116,0.76],[1118,0.9],[1119,0.82],[1121,0.94],[1122,0.84],[1124,0.8],[1125,0.9],[1127,0.86],[1128,0.78],[1130,0.92],[1131,0.86],[1133,0.94],[1134,0.84],[1136,0.8],[1137,0.92],[1139,0.86],[1140,0.96],[1142,0.84],[1143,0.92],[1145,0.88],[1146,0.8],[1148,0.94],[1149,0.86],[1151,0.9],[1152,0.98],[1154,0.86],[1155,0.94],[1157,0.88],[1158,0.96],[1160,0.86],[1161,0.98],[1163,0.9],[1164,0.84],[1166,0.96],[1167,0.9],[1169,0.84],[1170,0.98],[1172,0.9],[1173,1.0],[1175,0.92],[1176,1.02],[1178,0.88],[1179,0.96],[1181,1.04],[1182,0.92],[1184,0.96],[1185,1.06],[1187,0.94],[1188,1.0],[1190,0.9],[1191,1.0],[1193,0.96],[1194,1.06],[1196,0.98],[1197,0.9],[1199,1.04],[1200,0.96],[1202,1.02],[1203,0.94],[1205,1.04],[1206,0.98],[1208,0.92],[1209,1.02],[1211,0.98],[1212,1.08],[1214,0.96],[1215,1.04],[1217,1.0],[1218,1.1],[1220,0.96],[1221,1.04],[1223,1.0],[1224,1.1],[1226,1.06],[1227,0.98],[1229,1.12],[1230,1.04],[1232,1.08],[1233,1.0],[1235,1.08],[1236,1.16],[1238,1.02],[1239,1.1],[1241,1.06],[1242,1.12],[1244,1.02],[1245,1.1],[1247,1.06],[1248,1.14],[1250,1.04],[1251,1.12],[1253,1.08],[1254,1.18],[1256,1.06],[1257,1.12],[1259,1.04],[1260,1.12],[1262,1.1],[1263,1.2],[1265,1.12],[1266,1.04],[1268,1.16],[1269,1.1],[1271,1.14],[1272,1.22],[1274,1.12],[1275,1.2],[1277,1.1],[1278,1.18],[1280,1.12],[1281,1.22],[1283,1.14],[1284,1.1],[1286,1.18],[1287,1.24],[1289,1.14],[1290,1.2],[1292,1.16],[1293,1.24],[1295,1.14],[1296,1.22],[1298,1.18],[1299,1.26],[1301,1.2],[1302,1.28],[1304,1.2],[1305,1.14],[1307,1.24],[1308,1.3],[1310,1.2],[1311,1.28],[1313,1.24],[1314,1.32],[1316,1.24],[1317,1.3],[1319,1.26],[1320,1.36],[1322,1.26],[1323,1.34],[1325,1.3],[1326,1.4],[1328,1.3],[1329,1.38],[1331,1.34],[1332,1.42],[1334,1.4],[1335,1.46],[1337,1.38],[1338,1.44],[1340,1.34],[1341,1.42],[1343,1.46],[1344,1.36],[1346,1.4],[1347,1.46],[1349,1.36],[1350,1.42],[1352,1.38],[1353,1.46],[1355,1.36],[1356,1.42],[1358,1.38],[1359,1.46],[1361,1.36],[1362,1.42],[1364,1.34],[1365,1.4],[1367,1.46],[1368,1.38],[1370,1.4],[1371,1.32],[1373,1.38],[1374,1.44],[1376,1.36],[1377,1.3],[1379,1.36],[1380,1.42],[1382,1.34],[1383,1.28],[1385,1.34],[1386,1.26],[1388,1.32],[1389,1.24],[1391,1.28],[1392,1.2],[1394,1.26],[1395,1.18],[1397,1.3],[1398,1.22],[1400,1.26],[1401,1.16],[1403,1.24],[1404,1.18],[1406,1.22],[1407,1.14],[1409,1.2],[1410,1.26],[1412,1.18],[1413,1.12],[1415,1.2],[1416,1.12],[1418,1.18],[1419,1.1],[1421,1.16],[1422,1.22],[1424,1.14],[1425,1.08],[1427,1.16],[1428,1.1],[1430,1.2],[1431,1.14],[1433,1.18],[1434,1.1],[1436,1.2],[1437,1.26],[1439,1.18],[1440,1.3],[1442,1.22],[1443,1.32],[1445,1.26],[1446,1.36],[1448,1.28],[1449,1.22],[1451,1.32],[1452,1.38],[1454,1.3],[1455,1.24],[1457,1.34],[1458,1.4],[1460,1.32],[1461,1.26],[1463,1.36],[1464,1.42],[1466,1.34],[1467,1.28],[1469,1.38],[1470,1.44],[1472,1.36],[1473,1.3],[1475,1.4],[1476,1.46],[1478,1.36],[1479,1.32],[1481,1.42],[1482,1.46],[1484,1.38],[1485,1.34],[1487,1.42],[1488,1.48],[1490,1.38],[1491,1.34],[1493,1.44],[1494,1.38],[1496,1.42],[1497,1.36],[1499,1.44],[1500,1.4]];

const FONT = "'Liberation Sans', Arial, Helvetica, sans-serif";
const INK = '#151515';
const toXY = arr => arr.map(p => ({x: p[0], y: p[1]}));

const framePlugin = {
  id: 'frame',
  afterDraw(chart) {
    const {ctx, chartArea: {left, right, top, bottom}, scales: {x, y}} = chart;
    ctx.save();
    ctx.strokeStyle = '#2a2a2a';
    ctx.lineWidth = 1.5;
    ctx.strokeRect(left, top, right - left, bottom - top);
    ctx.lineWidth = 1.4;
    ctx.beginPath();
    for (let v = x.min; v <= x.max + 1e-6; v += 50) {
      const px = x.getPixelForValue(v);
      const len = (v % 200 === 0) ? 9 : 5;
      ctx.moveTo(px, bottom); ctx.lineTo(px, bottom - len);
      ctx.moveTo(px, top); ctx.lineTo(px, top + len);
    }
    for (let v = y.min; v <= y.max + 1e-6; v += 0.25) {
      const py = y.getPixelForValue(v);
      const len = (Math.abs(v - Math.round(v)) < 1e-6) ? 10 : 5;
      ctx.moveTo(left, py); ctx.lineTo(left + len, py);
      ctx.moveTo(right, py); ctx.lineTo(right - len, py);
    }
    ctx.stroke();

    ctx.fillStyle = INK;
    const ySize = 23;
    const capH = 0.716 * ySize;
    ctx.font = `bold ${ySize}px ${FONT}`;
    ctx.textAlign = 'right';
    ctx.textBaseline = 'alphabetic';
    yTickLabels.forEach(v => {
      let cy = y.getPixelForValue(v);
      cy = Math.min(Math.max(cy, top + capH / 2), bottom - capH / 2);
      ctx.fillText(String(v), left - 6, cy + capH / 2);
    });

    ctx.font = `bold 24px ${FONT}`;
    ctx.textAlign = 'left';
    ctx.fillText(directionLabels[0], left, 33);
    ctx.textAlign = 'right';
    ctx.fillText(directionLabels[1], right, 33);

    const dotX = [108, 223, 361];
    const textX = [123, 240, 373];
    ctx.textAlign = 'left';
    chart.data.datasets.forEach((ds, i) => {
      ctx.beginPath();
      ctx.fillStyle = ds.backgroundColor;
      ctx.arc(dotX[i], 85, 6.5, 0, Math.PI * 2);
      ctx.fill();
      ctx.fillStyle = INK;
      ctx.fillText(ds.label, textX[i], 92);
    });
    ctx.restore();
  }
};

new Chart(document.getElementById('c').getContext('2d'), {
  type: 'scatter',
  data: {
    datasets: [
      {label: seriesNames[0], data: toXY(gprPoints), backgroundColor: '#e3261d', borderWidth: 0, pointRadius: 2.2, order: 2},
      {label: seriesNames[1], data: toXY(lidarPoints), backgroundColor: '#7bc062', borderWidth: 0, pointRadius: 2.2, order: 3},
      {label: seriesNames[2], data: toXY(probePoints), backgroundColor: '#2e6cb6', borderWidth: 0, pointRadius: 5.3, order: 1}
    ]
  },
  options: {
    responsive: false,
    animation: false,
    devicePixelRatio: 1,
    layout: {padding: {top: 42, right: 1, left: 0, bottom: 0}},
    plugins: {legend: {display: false}, tooltip: {enabled: false}},
    scales: {
      x: {
        type: 'linear', min: 0, max: 1500,
        afterBuildTicks: s => { s.ticks = xTickLabels.map(v => ({value: v})); },
        afterFit: s => { s.height = 60; },
        grid: {display: false, drawTicks: false},
        border: {display: false},
        ticks: {padding: 9, color: INK, autoSkip: false, maxRotation: 0, callback: v => String(v), font: {family: FONT, size: 24, weight: 'bold'}},
        title: {display: true, text: xTitle, color: INK, padding: {top: 0, bottom: 0}, font: {family: FONT, size: 24, weight: 'bold'}}
      },
      y: {
        type: 'linear', min: 0, max: 4,
        afterBuildTicks: s => { s.ticks = yTickLabels.map(v => ({value: v})); },
        afterFit: s => { s.width = 69; },
        grid: {display: false, drawTicks: false},
        border: {display: false},
        ticks: {display: false},
        title: {display: true, text: yTitle, color: INK, padding: {top: 6, bottom: 0}, font: {family: FONT, size: 24, weight: 'bold'}}
      }
    }
  },
  plugins: [framePlugin]
});
</script>
</body></html>
